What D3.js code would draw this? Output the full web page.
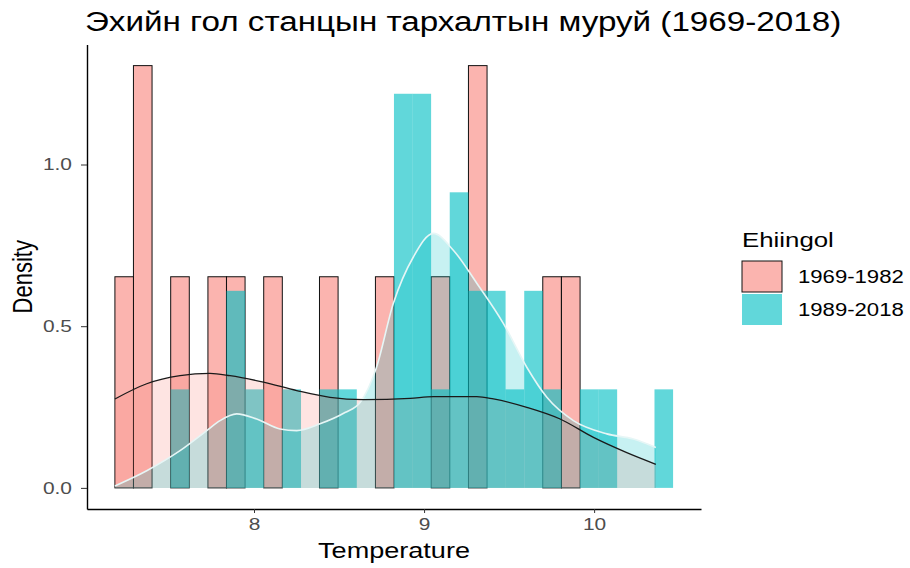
<!DOCTYPE html>
<html>
<head>
<meta charset="utf-8">
<script src="https://cdn.jsdelivr.net/npm/d3@7"></script>
<style>
  html, body { margin: 0; padding: 0; background: #ffffff; }
  svg { display: block; }
  text { font-family: "Liberation Sans", Arial, sans-serif; }
</style>
</head>
<body>
<svg id="chart" width="910" height="568"></svg>
<script>
// ---------------- data ----------------
const chartTitle = "Эхийн гол станцын тархалтын муруй (1969-2018)";
const xTitle = "Temperature";
const yTitle = "Density";
const legendTitle = "Ehiingol";
const groups = ["1969-1982", "1989-2018"];
const groupSizes = [14, 30];

// left edges of the 30 histogram bins (°C) and the common bin width
const binLeft = [7.182, 7.291, 7.401, 7.510, 7.620, 7.729, 7.838, 7.948, 8.057, 8.167,
                 8.276, 8.385, 8.495, 8.604, 8.714, 8.823, 8.932, 9.042, 9.151, 9.261,
                 9.370, 9.479, 9.589, 9.698, 9.808, 9.917, 10.026, 10.136, 10.245, 10.355];
const binWidth = 0.1094;

// counts per bin
const counts1969 = [1, 2, 0, 1, 0, 1, 1, 0, 1, 0, 0, 1, 0, 0, 1, 0, 0, 1, 0, 2, 0, 0, 0, 1, 1, 0, 0, 0, 0, 0];
const counts1989 = [0, 0, 0, 1, 0, 0, 2, 1, 0, 1, 0, 1, 1, 0, 0, 4, 4, 1, 3, 2, 2, 1, 2, 1, 0, 1, 1, 0, 0, 1];

// kernel density curves [temperature, density]
const density1969 = [[7.182, 0.275], [7.369, 0.322], [7.565, 0.347], [7.741, 0.354], [7.859, 0.347],
                     [8.055, 0.327], [8.251, 0.301], [8.447, 0.280], [8.643, 0.273], [8.918, 0.277],
                     [9.055, 0.282], [9.310, 0.282], [9.408, 0.275], [9.604, 0.249], [9.800, 0.213],
                     [9.996, 0.156], [10.192, 0.109], [10.363, 0.073]];
const density1989 = [[7.182, 0.006], [7.369, 0.053], [7.565, 0.115], [7.722, 0.177], [7.800, 0.208],
                     [7.898, 0.229], [8.016, 0.213], [8.153, 0.182], [8.251, 0.177], [8.388, 0.198],
                     [8.535, 0.233], [8.624, 0.264], [8.718, 0.369], [8.819, 0.570], [8.937, 0.714],
                     [9.055, 0.787], [9.172, 0.735], [9.310, 0.633], [9.466, 0.509], [9.604, 0.373],
                     [9.722, 0.280], [9.878, 0.208], [10.075, 0.167], [10.231, 0.151], [10.363, 0.125]];

const xTicks = [8, 9, 10];
const yTicks = [0, 0.5, 1.0];

// ---------------- drawing ----------------
const svg = d3.select("#chart");
const panel = { left: 87, right: 701, top: 44.5, bottom: 509 };
const SX = 1.23; // the reference picture is horizontally stretched

const hist1 = binLeft.map((x0, i) => ({ x0, x1: x0 + binWidth, d: counts1969[i] / (groupSizes[0] * binWidth) }));
const hist2 = binLeft.map((x0, i) => ({ x0, x1: x0 + binWidth, d: counts1989[i] / (groupSizes[1] * binWidth) }));

const xMin = binLeft[0], xMax = binLeft[binLeft.length - 1] + binWidth;
const xPad = (xMax - xMin) * 0.05;
const x = d3.scaleLinear().domain([xMin - xPad, xMax + xPad]).range([panel.left, panel.right]);
const yMax = d3.max(hist1.concat(hist2), d => d.d);
const y = d3.scaleLinear().domain([-yMax * 0.05, yMax * 1.05]).range([panel.bottom, panel.top]);

const pink = "#F8766D", teal = "#00BFC4";

// pink histogram (with black outline)
svg.append("g").selectAll("rect").data(hist1.filter(d => d.d > 0)).join("rect")
  .attr("x", d => x(d.x0)).attr("width", d => x(d.x1) - x(d.x0))
  .attr("y", d => y(d.d)).attr("height", d => y(0) - y(d.d))
  .attr("fill", pink).attr("fill-opacity", 0.55)
  .attr("stroke", "#111").attr("stroke-width", 1);

// teal histogram
svg.append("g").selectAll("rect").data(hist2.filter(d => d.d > 0)).join("rect")
  .attr("x", d => x(d.x0)).attr("width", d => x(d.x1) - x(d.x0))
  .attr("y", d => y(d.d)).attr("height", d => y(0) - y(d.d))
  .attr("fill", teal).attr("fill-opacity", 0.62);

const area = d3.area().x(d => x(d[0])).y0(y(0)).y1(d => y(d[1])).curve(d3.curveMonotoneX);
const line = d3.line().x(d => x(d[0])).y(d => y(d[1])).curve(d3.curveMonotoneX);

// density of 1969-1982
svg.append("path").datum(density1969).attr("d", area)
  .attr("fill", pink).attr("fill-opacity", 0.2);
// density of 1989-2018
svg.append("path").datum(density1989).attr("d", area)
  .attr("fill", teal).attr("fill-opacity", 0.22);
svg.append("path").datum(density1989).attr("d", line)
  .attr("fill", "none").attr("stroke", "#e6f6f6").attr("stroke-width", 1.6);
svg.append("path").datum(density1969).attr("d", line)
  .attr("fill", "none").attr("stroke", "#1a1a1a").attr("stroke-width", 1.3);

// axes
const xAxis = d3.axisBottom(x).tickValues(xTicks).tickFormat(d3.format("d")).tickSize(4).tickSizeOuter(0).tickPadding(5);
const yAxis = d3.axisLeft(y).tickValues(yTicks).tickFormat(d3.format(".1f")).tickSize(6).tickSizeOuter(0).tickPadding(6.2);

const gx = svg.append("g").attr("transform", `translate(0,${panel.bottom})`).call(xAxis);
const gy = svg.append("g").attr("transform", `translate(${panel.left},0)`).call(yAxis);
[gx, gy].forEach(g => {
  g.select(".domain").attr("stroke", "#000").attr("stroke-width", 1.4);
  g.selectAll(".tick line").attr("stroke", "#333");
  g.selectAll(".tick text").attr("fill", "#4d4d4d").style("font-size", "17px")
    .style("font-family", "'Liberation Sans', Arial, sans-serif")
    .attr("transform", `scale(${SX},1)`);
});

// stretched text helper
function stext(sel, tx, ty, str, size, anchor) {
  return sel.append("text")
    .attr("transform", `translate(${tx},${ty}) scale(${SX},1)`)
    .attr("text-anchor", anchor || "start")
    .attr("font-size", size).attr("fill", "#000").text(str);
}

// titles
stext(svg, 85, 31, chartTitle, 27);
stext(svg, (panel.left + panel.right) / 2, 558, xTitle, 22, "middle");
svg.append("text").attr("transform", `translate(32,${(panel.top + panel.bottom) / 2}) rotate(-90) scale(1,${SX})`)
  .attr("text-anchor", "middle").attr("font-size", 22).attr("fill", "#000").text(yTitle);

// legend
const lg = svg.append("g");
stext(lg, 742, 247, legendTitle, 21);
const keyFill = [pink, teal];
groups.forEach((g, i) => {
  const ky = 261 + i * 33;
  lg.append("rect").attr("x", 742).attr("y", ky).attr("width", 40).attr("height", 31)
    .attr("fill", keyFill[i]).attr("fill-opacity", i === 0 ? 0.55 : 0.62)
    .attr("stroke", i === 0 ? "#111" : "none").attr("stroke-width", 1);
  stext(lg, 798, ky + 15.5 + 6.3, g, 18);
});
</script>
</body>
</html>
